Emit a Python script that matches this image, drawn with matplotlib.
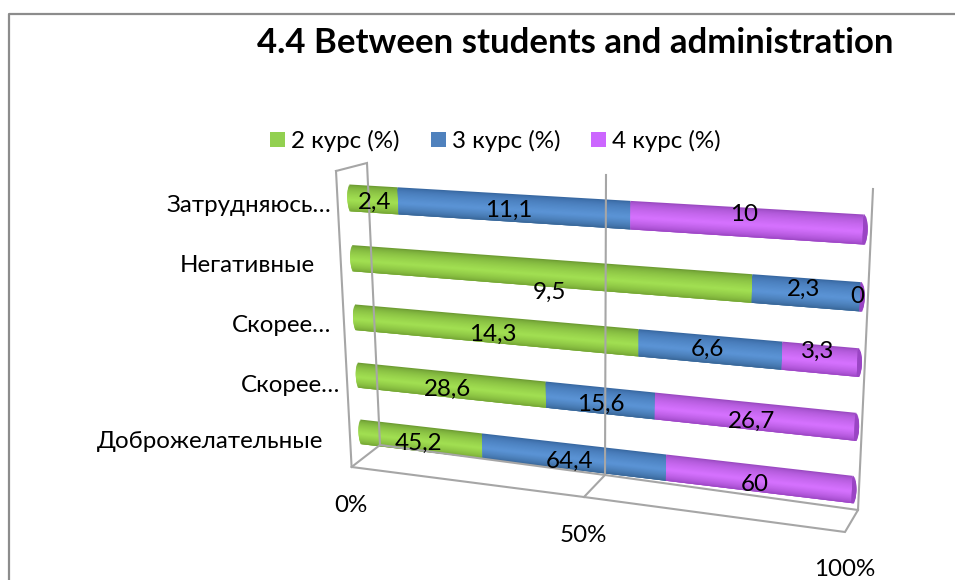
#! /usr/bin/env python3

import numpy as np
import matplotlib
matplotlib.use("Agg")
import matplotlib.pyplot as plt
from matplotlib.colors import to_rgb
from matplotlib.transforms import Transform, Affine2D
from matplotlib.patches import Rectangle

plt.rcParams['font.family'] = ['Lato', 'Noto Sans', 'DejaVu Sans']

W, H = 955, 580

# data, bottom row first
categories = ['Доброжелательные', 'Скорее…', 'Скорее…', 'Негативные', 'Затрудняюсь…']
series_names = ['2 курс (%)', '3 курс (%)', '4 курс (%)']
course_2 = [45.2, 28.6, 14.3, 9.5, 2.4]
course_3 = [64.4, 15.6, 6.6, 2.3, 11.1]
course_4 = [60, 26.7, 3.3, 0, 10]
value_labels_2 = ['45,2', '28,6', '14,3', '9,5', '2,4']
value_labels_3 = ['64,4', '15,6', '6,6', '2,3', '11,1']
value_labels_4 = ['60', '26,7', '3,3', '0', '10']
tick_labels = ['0%', '50%', '100%']

# top, mid and bottom shade of each cylinder colour
shades = [('#5f8a2a', '#a2e052', '#6f9e30'),
          ('#2f5c94', '#5b94d6', '#33608f'),
          ('#8a3fb0', '#d672ff', '#9440bc')]
legend_colors = ['#92d050', '#4f81bd', '#cc66ff']
cap_color = '#9a45c4'
wall_color = '#a6a6a6'

BAR_HEIGHT = 0.44
N_STRIPS = 24
CAP = 0.8
FONT_SIZE = 17.4


class Perspective(Transform):
    """(percent, row) to display pixels, the chart is drawn tilted"""
    input_dims = 2
    output_dims = 2

    def __init__(self, src, dst):
        super().__init__()
        rows = []
        rhs = []
        for (x, y), (u, v) in zip(src, dst):
            rows.append([x, y, 1, 0, 0, 0, -u * x, -u * y])
            rows.append([0, 0, 0, x, y, 1, -v * x, -v * y])
            rhs += [u, v]
        self.h = np.append(np.linalg.solve(np.array(rows, float), np.array(rhs, float)), 1).reshape(3, 3)

    def transform_non_affine(self, values):
        pts = np.column_stack((values, np.ones(len(values))))
        out = pts @ self.h.T
        return out[:, :2] / out[:, 2:]


fig = plt.figure(figsize=(9.55, 5.8), dpi=100)
ax = fig.add_axes([0, 0, 1, 1])
ax.set_xlim(0, 100)
ax.set_ylim(-0.5, 4.5)
ax.axis('off')

# measured in image pixels (y down), from here on everything goes through these
pixels = Affine2D().scale(1, -1).translate(0, H)
persp = Perspective([(0, 0), (100, 0), (0, 4), (100, 4)],
                    [(362, H - 432), (852, H - 489.5), (351, H - 198), (863, H - 229.5)])

# outer frame, only left and top are visible
ax.plot([9, 9, W], [H, 14, 14], color='#8c8c8c', lw=1.6, transform=pixels, clip_on=False)

# walls and floor
walls = [[(336, 171), (351.6, 467), (584, 497), (845, 532), (858, 510), (873, 189)],
         [(336, 171), (367, 163), (380, 445), (605, 475), (858, 510)],
         [(351.6, 467), (380, 445)],
         [(584, 497), (605, 475), (606, 175)]]
for wall in walls:
    xs, ys = zip(*wall)
    ax.plot(xs, ys, color=wall_color, lw=1.5, transform=pixels, clip_on=False, solid_joinstyle='miter')

values = np.array([course_2, course_3, course_4], float)
percent = values / values.sum(axis=0) * 100
lefts = np.vstack((np.zeros(5), np.cumsum(percent, axis=0)[:-1]))
y_pos = np.arange(len(categories))


def shade(colors, u):
    """colour across the cylinder, u goes from -1 (top) to 1 (bottom)"""
    top, mid, bottom = [np.array(to_rgb(c)) for c in colors]
    peak = 0.15
    if u < peak:
        k = ((u + 1) / (peak + 1)) ** 0.45
        return top + (mid - top) * k
    k = ((1 - u) / (1 - peak)) ** 0.6
    return bottom + (mid - bottom) * k


strips = (np.arange(N_STRIPS) + 0.5) / N_STRIPS * 2 - 1
dy = BAR_HEIGHT / N_STRIPS

# strips are painted top to bottom, each one running a bit under the next, no seams that way
for i, colors in enumerate(shades):
    for u in strips:
        bulge = CAP * np.sqrt(1 - u ** 2)
        left = lefts[i].copy()
        width = percent[i].copy()
        # round off the start of the bar
        first = lefts[i] == 0
        left[first] -= bulge
        width[first] += bulge
        top = -u * BAR_HEIGHT / 2 + dy / 2
        height = min(dy * 3, top + BAR_HEIGHT / 2)
        ax.barh(y_pos + top, width, left=left, height=-height, align='edge',
                color=shade(colors, u), linewidth=0, transform=persp, clip_on=False)

# dark end cap at 100%
for y in y_pos:
    for u in strips:
        bulge = CAP * np.sqrt(1 - u ** 2)
        top = -u * BAR_HEIGHT / 2 + dy / 2
        height = min(dy * 3, top + BAR_HEIGHT / 2)
        ax.add_patch(Rectangle((100, y + top), bulge, -height,
                               facecolor=cap_color, linewidth=0, transform=persp, clip_on=False))

# data labels sit around the middle of a segment, nudged as in the original (pixels)
label_sets = [value_labels_2, value_labels_3, value_labels_4]
nudges = [[(-3, 4), (-3, 5), (0, 5), (6, 20), (0, 3)],
          [(-3, 5), (1, 4), (-2, 0), (-2, -3), (-2, 2)],
          [(-2, 6), (-1, 5), (-2, -8), (-3, 0), (0, -8)]]
for i, labels in enumerate(label_sets):
    for j, text in enumerate(labels):
        centre = persp.transform((lefts[i][j] + percent[i][j] / 2, y_pos[j]))
        dx, dy_px = nudges[i][j]
        ax.text(centre[0] + dx, centre[1] - dy_px, text, fontsize=FONT_SIZE, color='black',
                ha='center', va='center', transform=None, clip_on=False)

# category labels
cat_right = [323, 340, 331, 315, 331]
cat_y = [442, 385, 325, 265, 206]
for name, x, y in zip(categories, cat_right, cat_y):
    ax.text(x, y, name, fontsize=FONT_SIZE, ha='right', va='center', transform=pixels, clip_on=False)

# axis tick labels
for text, x, y in zip(tick_labels, [351, 583, 845], [505, 536, 570]):
    ax.text(x, y, text, fontsize=FONT_SIZE, ha='center', va='center', transform=pixels, clip_on=False)

# title
ax.text(575, 43, '4.4 Between students and administration', fontsize=25, fontweight='bold',
        ha='center', va='center', transform=pixels, clip_on=False)

# legend, placed by hand since the chart has no ordinary axes
for name, color, x in zip(series_names, legend_colors, [270, 431, 591]):
    ax.add_patch(Rectangle((x, 132), 15, 15, facecolor=color, linewidth=0, transform=pixels, clip_on=False))
    ax.text(x + 21, 141, name, fontsize=FONT_SIZE, ha='left', va='center', transform=pixels, clip_on=False)

ax.set_xlim(0, 100)
ax.set_ylim(-0.5, 4.5)
fig.savefig('out.png', dpi=100)
